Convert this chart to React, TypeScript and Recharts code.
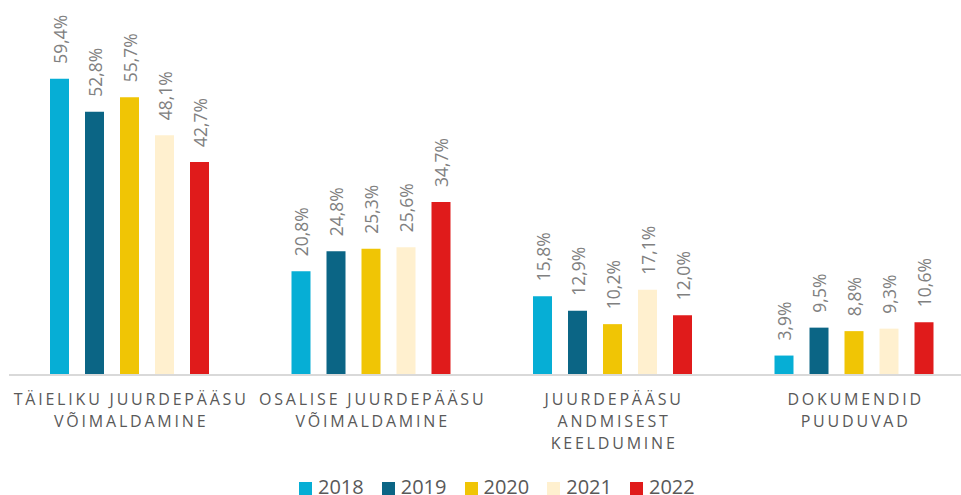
import React from "react";
import { BarChart, Bar, XAxis, YAxis, LabelList } from "recharts";

const categories = [
  ["TÄIELIKU JUURDEPÄÄSU", "VÕIMALDAMINE"],
  ["OSALISE JUURDEPÄÄSU", "VÕIMALDAMINE"],
  ["JUURDEPÄÄSU", "ANDMISEST", "KEELDUMINE"],
  ["DOKUMENDID", "PUUDUVAD"],
];
const years = ["2018", "2019", "2020", "2021", "2022"];
const colors = ["#06AED5", "#0B6585", "#F0C505", "#FFF0CF", "#E01B1B"];
const v2018 = [59.4, 20.8, 15.8, 3.9];
const v2019 = [52.8, 24.8, 12.9, 9.5];
const v2020 = [55.7, 25.3, 10.2, 8.8];
const v2021 = [48.1, 25.6, 17.1, 9.3];
const v2022 = [42.7, 34.7, 12.0, 10.6];
const seriesValues = [v2018, v2019, v2020, v2021, v2022];

const data = categories.map((c, i) => {
  const row: any = { name: c.join("|") };
  years.forEach((y, j) => {
    row[y] = seriesValues[j][i];
  });
  return row;
});

const FONT = "'Open Sans', sans-serif";

const fmt = (v: number) => v.toFixed(1).replace(".", ",") + "%";

const ValueLabel = (props: any) => {
  const { x, y, width, value } = props;
  const cx = x + width / 2;
  const ty = y - 15;
  return (
    <text
      transform={`translate(${cx}, ${ty}) rotate(-90)`}
      textAnchor="start"
      dominantBaseline="central"
      fill="#808080"
      fontSize={17.5}
      fontFamily={FONT}
    >
      {fmt(value)}
    </text>
  );
};

const CategoryTick = (props: any) => {
  const { x, y, payload } = props;
  const lines = String(payload.value).split("|");
  const ls = 2.8;
  return (
    <text
      x={x + ls / 2}
      y={y}
      textAnchor="middle"
      fill="#595959"
      fontSize={16}
      fontFamily={FONT}
      letterSpacing={ls}
    >
      {lines.map((l, i) => (
        <tspan key={i} x={x + ls / 2} y={y + 22 + i * 22}>
          {l}
        </tspan>
      ))}
    </text>
  );
};

export default function App() {
  return (
    <div
      style={{
        position: "fixed",
        left: 0,
        top: 0,
        width: 961,
        height: 495,
        overflow: "hidden",
        background: "#fff",
      }}
    >
      <BarChart
        width={980}
        height={495}
        data={data}
        margin={{ top: 26, left: 9, right: 5, bottom: 0 }}
        barSize={19}
        barGap={16}
      >
        <XAxis
          dataKey="name"
          axisLine={{ stroke: "#d9d9d9", strokeWidth: 2 }}
          tickLine={false}
          tick={<CategoryTick />}
          height={120}
          interval={0}
        />
        <YAxis hide domain={[0, 70]} />
        {years.map((y, j) => (
          <Bar key={y} dataKey={y} fill={colors[j]} isAnimationActive={false}>
            <LabelList dataKey={y} content={<ValueLabel />} />
          </Bar>
        ))}
      </BarChart>
      <div
        style={{
          position: "absolute",
          left: 299,
          top: 478,
          display: "flex",
          fontFamily: FONT,
          fontSize: 20,
          color: "#595959",
          lineHeight: "17px",
          height: 17,
        }}
      >
        {years.map((y, j) => (
          <div
            key={y}
            style={{ display: "flex", alignItems: "center", width: 82.75 }}
          >
            <span
              style={{
                display: "inline-block",
                width: 13,
                height: 13,
                background: colors[j],
                marginRight: 6,
                marginTop: 4,
              }}
            />
            <span>{y}</span>
          </div>
        ))}
      </div>
    </div>
  );
}
